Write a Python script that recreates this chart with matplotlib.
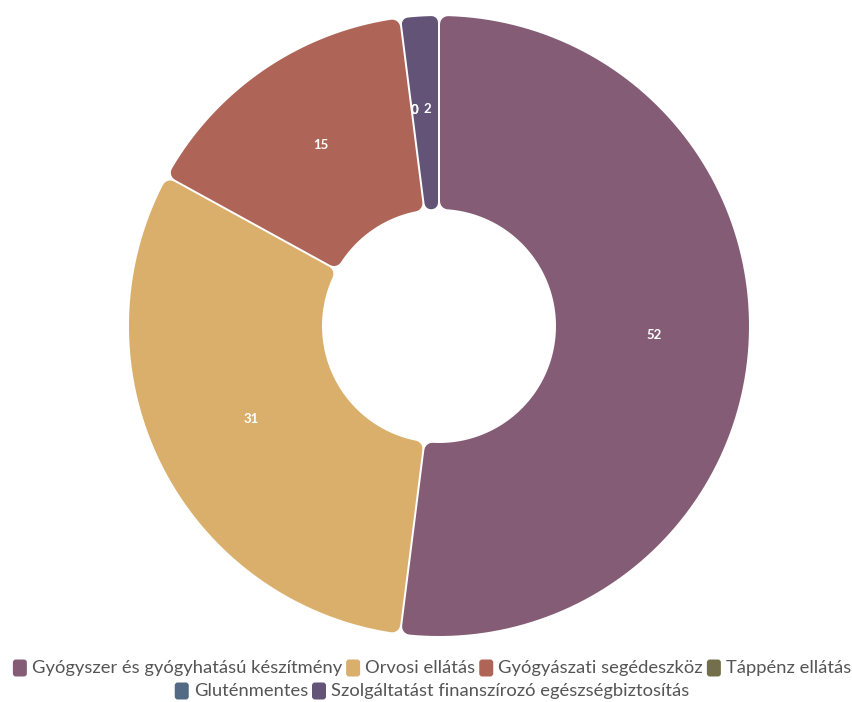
import math
import matplotlib
matplotlib.use('Agg')
import matplotlib.pyplot as plt
from matplotlib.patches import Polygon, FancyBboxPatch

categories = ['Gyógyszer és gyógyhatású készítmény', 'Orvosi ellátás',
              'Gyógyászati segédeszköz', 'Táppénz ellátás', 'Gluténmentes',
              'Szolgáltatást finanszírozó egészségbiztosítás']
values = [52, 31, 15, 0, 0, 2]
colors = ['#855C75', '#D9AF6B', '#AF6458', '#736F4C', '#526A83', '#625377']

W, H = 853, 702
CX, CY = 439, H - 326      # pie centre in pixel coords (y up)
R_OUT, R_IN = 310, 117
CORNER = 8                 # corner rounding, px
GAP = 2                    # white gap between slices, px
PT = 0.72                  # points per pixel at dpi 100

plt.rcParams['font.family'] = ['Lato', 'DejaVu Sans']

fig = plt.figure(figsize=(W / 100, H / 100), dpi=100)
ax = fig.add_axes([0, 0, 1, 1])

mid_r = (R_OUT + R_IN) / 2
wedges, texts = ax.pie(values, colors=colors, startangle=90, counterclock=False,
                       radius=R_OUT, center=(CX, CY), frame=True,
                       labels=[str(v) for v in values],
                       labeldistance=mid_r / R_OUT,
                       textprops=dict(color='white', fontsize=9.5, fontweight='bold'))
ax.set_xlim(0, W)
ax.set_ylim(0, H)
ax.set_aspect('equal')
ax.axis('off')

for t in texts:
    t.set_ha('center')
    t.set_va('center')
    t.set_zorder(5)
    x, y = t.get_position()
    t.set_position((x + 2, y + 4))


def rounded_slice(t1, t2, color):
    """polygon inset by the corner radius, stroked back out with round joins"""
    a1, a2 = math.radians(t1), math.radians(t2)
    half = (a2 - a1) / 2
    s = math.sin(half)
    d = CORNER
    lim = (R_IN * s - GAP / 2) / (1 - s) * 0.95
    if lim < d:
        d = max(lim, 0.5)
    off = d + GAP / 2
    ro, ri = R_OUT - d, R_IN + d
    ao = math.asin(min(off / ro, 1))
    ai = math.asin(min(off / ri, 1))
    pts = []
    n = 120
    for k in range(n + 1):
        a = (a1 + ao) + (a2 - a1 - 2 * ao) * k / n
        pts.append((CX + ro * math.cos(a), CY + ro * math.sin(a)))
    for k in range(n + 1):
        a = (a2 - ai) - (a2 - a1 - 2 * ai) * k / n
        pts.append((CX + ri * math.cos(a), CY + ri * math.sin(a)))
    ax.add_patch(Polygon(pts, closed=True, facecolor=color, edgecolor=color,
                         linewidth=2 * d * PT, joinstyle='round', zorder=2))


for w, v, c in zip(wedges, values, colors):
    w.set_visible(False)
    if v > 0:
        rounded_slice(w.theta1, w.theta2, c)

# legend, two centred rows like the original
rows = [[0, 1, 2, 3], [4, 5]]
row_y = [H - 668, H - 691]
MW, MH = 14, 17
renderer = fig.canvas.get_renderer()
for row, y in zip(rows, row_y):
    items = []
    total = 0
    for i in row:
        t = ax.text(0, y, categories[i], fontsize=13.2, color='#555555',
                    ha='left', va='center')
        tw = t.get_window_extent(renderer).width
        items.append((i, t, tw))
        total += MW + 5 + tw
    total += 4 * (len(row) - 1)
    x = 432 - total / 2
    for i, t, tw in items:
        ax.add_patch(FancyBboxPatch((x, y - MH / 2), MW, MH,
                                    boxstyle='round,pad=0,rounding_size=3',
                                    facecolor=colors[i], edgecolor='none'))
        t.set_x(x + MW + 5)
        x += MW + 5 + tw + 4

fig.savefig('out.png', dpi=100)
